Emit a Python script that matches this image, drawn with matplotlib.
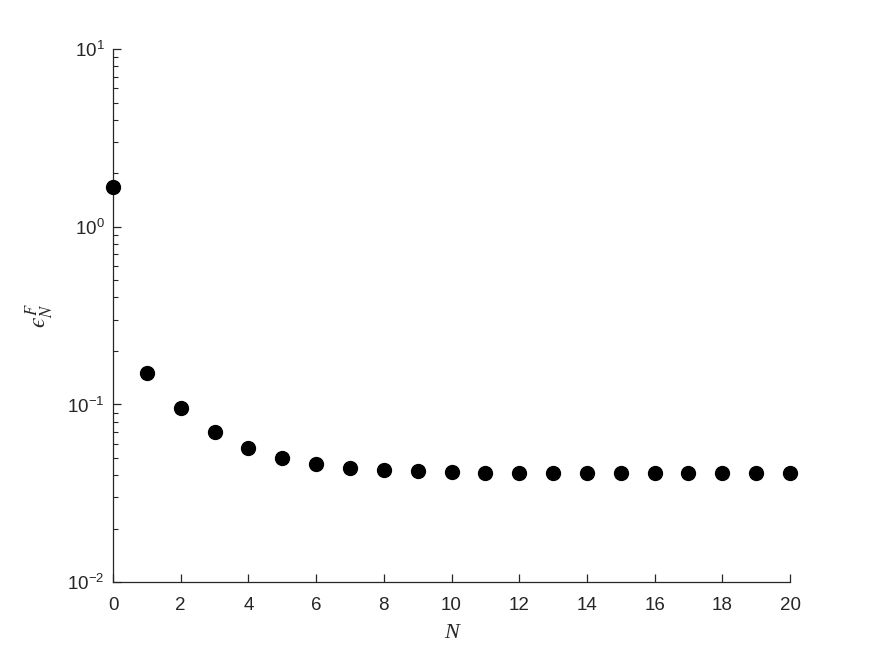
import math
import matplotlib
matplotlib.use("Agg")
import matplotlib.pyplot as plt
from matplotlib.ticker import FixedLocator, LogLocator, FuncFormatter

# 数据：N 与误差 eps_N^F
N = list(range(0, 21))
eps = [1.68, 0.151, 0.095, 0.0695, 0.0565, 0.0497, 0.0459, 0.0441, 0.0425,
       0.0420, 0.0414, 0.0411, 0.0410, 0.0409, 0.0409, 0.0409, 0.0409,
       0.0409, 0.0409, 0.0409, 0.0409]

x_ticks = list(range(0, 21, 2))
y_ticks = [1e-2, 1e-1, 1e0, 1e1]

plt.rcParams['mathtext.fontset'] = 'custom'
plt.rcParams['mathtext.rm'] = 'Liberation Sans'
plt.rcParams['font.family'] = ['Liberation Sans', 'DejaVu Sans']

axcol = "#262626"

fig = plt.figure(figsize=(8.72, 6.54), dpi=100)
ax = fig.add_axes([0.1296, 0.110, 0.9060 - 0.1296, 0.925 - 0.110])

ax.plot(N, eps, "o", color="black", markersize=10, clip_on=False, zorder=3)

ax.set_yscale("log")
ax.set_xlim(0, 20)
ax.set_ylim(1e-2, 1e1)
ax.xaxis.set_major_locator(FixedLocator(x_ticks))
ax.yaxis.set_major_locator(FixedLocator(y_ticks))
ax.yaxis.set_minor_locator(LogLocator(base=10, subs=range(2, 10)))
ax.yaxis.set_major_formatter(FuncFormatter(lambda v, p: r"$10^{%d}$" % round(math.log10(v))))
ax.yaxis.set_minor_formatter(FuncFormatter(lambda v, p: ""))

# 只保留左、下坐标轴（类似 MATLAB 的 box off）
for s in ["top", "right"]:
    ax.spines[s].set_visible(False)
for s in ["left", "bottom"]:
    ax.spines[s].set_color(axcol)
    ax.spines[s].set_linewidth(0.9)

ax.tick_params(which="both", direction="in", colors=axcol, labelsize=13.5)
ax.tick_params(which="major", length=6, width=0.9)
ax.tick_params(which="minor", length=3.5, width=0.8)
ax.tick_params(axis="x", pad=11)
ax.tick_params(axis="y", pad=6)

ax.set_xlabel("N", fontsize=16, family="Liberation Serif", style="italic", color=axcol, labelpad=7)
ax.set_ylabel("$\u03f5_N^F$", fontsize=17, math_fontfamily="stix", color=axcol, labelpad=8)

fig.savefig("out.png", dpi=100)
